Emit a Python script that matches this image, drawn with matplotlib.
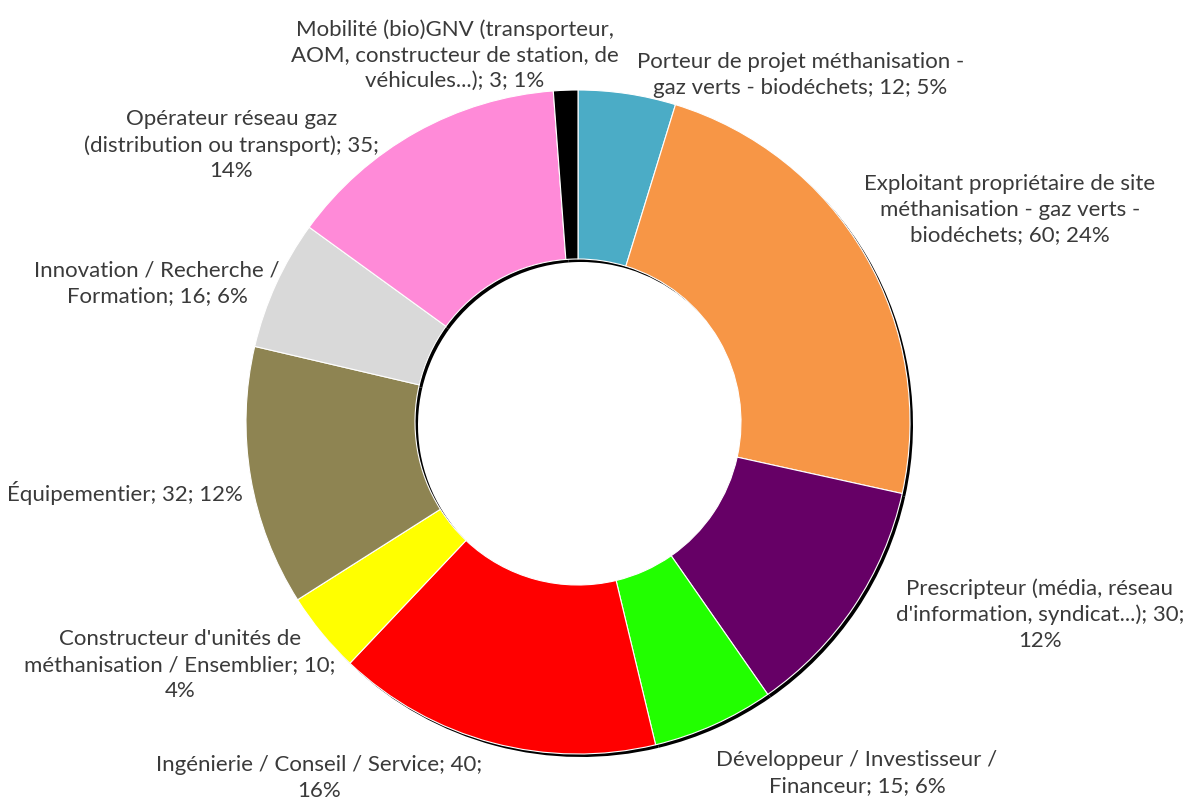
import matplotlib
matplotlib.use("Agg")
import matplotlib.pyplot as plt
import numpy as np

# data, clockwise from 12 o'clock
labels = [
    "Porteur de projet méthanisation -\ngaz verts - biodéchets; 12; 5%",
    "Exploitant propriétaire de site\nméthanisation - gaz verts -\nbiodéchets; 60; 24%",
    "Prescripteur (média, réseau\nd'information, syndicat...); 30;\n12%",
    "Développeur / Investisseur /\nFinanceur; 15; 6%",
    "Ingénierie / Conseil / Service; 40;\n16%",
    "Constructeur d'unités de\nméthanisation / Ensemblier; 10;\n4%",
    "Équipementier; 32; 12%",
    "Innovation / Recherche /\nFormation; 16; 6%",
    "Opérateur réseau gaz\n(distribution ou transport); 35;\n14%",
    "Mobilité (bio)GNV (transporteur,\nAOM, constructeur de station, de\nvéhicules...); 3; 1%",
]
values = [12, 60, 30, 15, 40, 10, 32, 16, 35, 3]
colors = ["#4BACC6", "#F79646", "#660066", "#22FF00", "#FF0000",
          "#FFFF00", "#8E8452", "#D9D9D9", "#FF8AD8", "#000000"]

# label offsets from the outer edge of each wedge (pixels)
offsets = [(173, 19), (145, 45), (186, -8), (143, -48), (-173, -35),
           (-142, -32), (-126, -16), (-119, 1), (-185, -13), (-111, 35)]

W, H = 1184, 798
cx, cy, R = 578, 422, 332

fig = plt.figure(figsize=(W / 100, H / 100), dpi=100)
ax = fig.add_axes([0, 0, 1, 1])

ring = 1 - 163 / R
sh = 3 / R

# drop shadow
ax.pie(values, startangle=90, counterclock=False, radius=1,
       colors=["black"] * len(values), center=(sh, -sh),
       wedgeprops=dict(width=ring, linewidth=0))

wedges, _ = ax.pie(values, startangle=90, counterclock=False, radius=1,
                   colors=colors,
                   wedgeprops=dict(width=ring, edgecolor="white", linewidth=0.8))
ax.set_xlim(-cx / R, (W - cx) / R)
ax.set_ylim(-(H - cy) / R, cy / R)
ax.set_aspect("equal")
ax.axis("off")

for w, lab, off in zip(wedges, labels, offsets):
    ang = np.deg2rad((w.theta1 + w.theta2) / 2)
    x, y = np.cos(ang), np.sin(ang)
    ax.annotate(lab, xy=(x, y), xytext=off, textcoords="offset pixels",
                ha="center", va="center", multialignment="center",
                fontsize=16, family="Lato", color="#3a3a3a", linespacing=1.36)

fig.savefig("out.png", dpi=100)
